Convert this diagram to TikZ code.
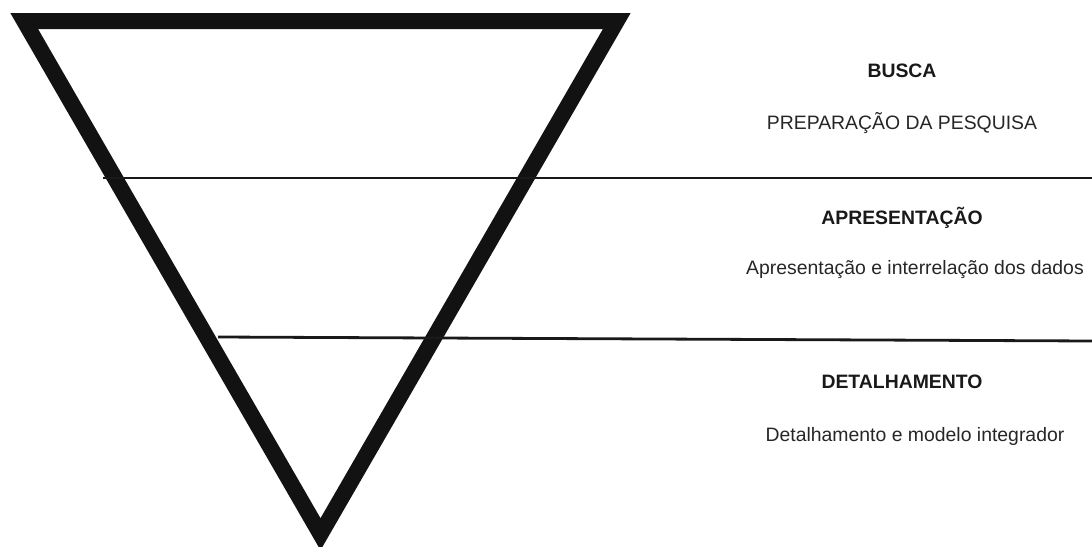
\documentclass[tikz,border=0pt]{standalone}
\usepackage{fontspec}
\setmainfont{Liberation Sans}
\begin{document}
\begin{tikzpicture}[x=0.5pt,y=-0.5pt,
  funnel/.style={draw=black!93, line width=8pt, line join=miter},
  divider/.style={draw=black!90, line width=1.4pt},
  title/.style={font=\fontsize{9.7pt}{11.5pt}\selectfont\bfseries, text=black!90, inner sep=0pt},
  body/.style={font=\fontsize{9.7pt}{11.5pt}\selectfont, text=black!85, inner sep=0pt}]
\useasboundingbox (0,0) rectangle (1092,546);
\coordinate (tl) at (24.2,21);
\coordinate (tr) at (616.8,21);
\coordinate (tip) at (320.5,534.2);
\draw[funnel] (tl) -- (tr) -- (tip) -- cycle;
\coordinate (l1a) at (103,178);
\coordinate (l1b) at (1092,178);
\coordinate (l2a) at (218,337);
\coordinate (l2b) at (1092,341);
\draw[divider] (l1a) -- (l1b);
\draw[divider] (l2a) -- (l2b);
\node[title] (busca) at (902,71) {BUSCA};
\node[body] (prep) at (902,123) {PREPARAÇÃO DA PESQUISA};
\node[title] (apres) at (902,218) {APRESENTAÇÃO};
\node[body] (apresb) at (915,270) {Apresentação e interrelação dos dados};
\node[title] (detal) at (902,382) {DETALHAMENTO};
\node[body] (detalb) at (915,436) {Detalhamento e modelo integrador};
\end{tikzpicture}
\end{document}
